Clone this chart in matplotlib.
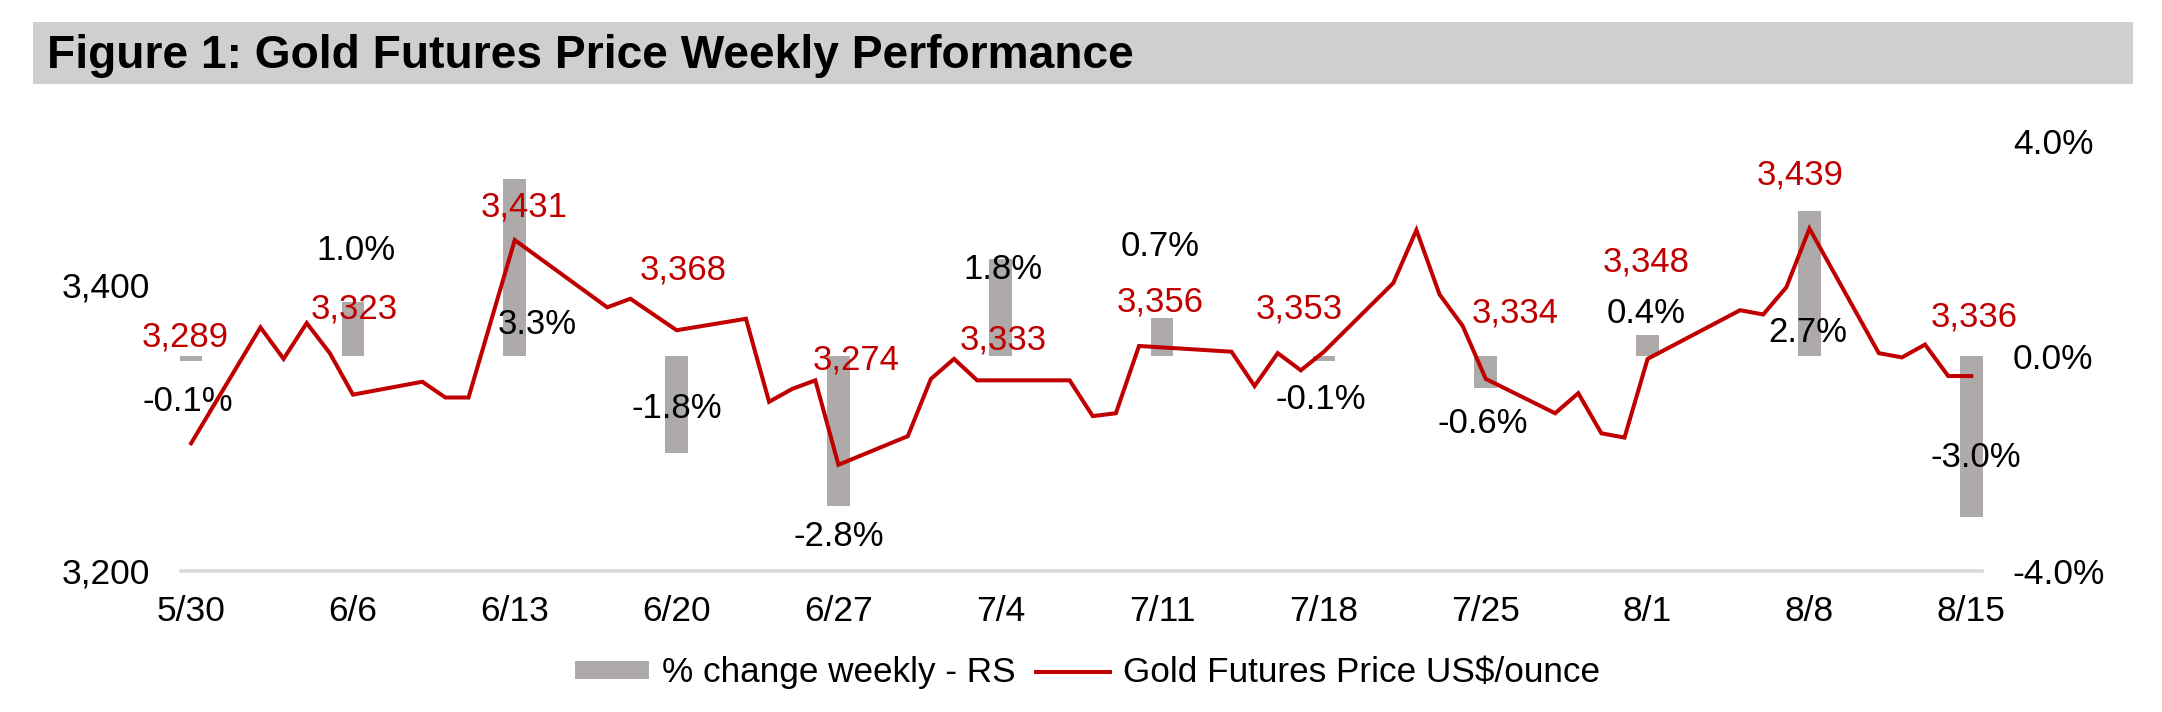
import matplotlib
matplotlib.use("Agg")
import matplotlib.pyplot as plt
from matplotlib.patches import Rectangle, Patch
from matplotlib.lines import Line2D
from matplotlib.ticker import FixedLocator, FuncFormatter
from datetime import timedelta
import pandas as pd

plt.rcParams['font.family'] = ['Liberation Sans', 'DejaVu Sans']

# ---------------- data ----------------
title_text = "Figure 1: Gold Futures Price Weekly Performance"

week_dates = ["2025-05-30", "2025-06-06", "2025-06-13", "2025-06-20", "2025-06-27", "2025-07-04",
              "2025-07-11", "2025-07-18", "2025-07-25", "2025-08-01", "2025-08-08", "2025-08-15"]
week_labels = ["5/30", "6/6", "6/13", "6/20", "6/27", "7/4",
               "7/11", "7/18", "7/25", "8/1", "8/8", "8/15"]
weekly_pct = [-0.1, 1.0, 3.3, -1.8, -2.8, 1.8, 0.7, -0.1, -0.6, 0.4, 2.7, -3.0]
weekly_price = [3289, 3323, 3431, 3368, 3274, 3333, 3356, 3353, 3334, 3348, 3439, 3336]

daily_dates = ["2025-05-30", "2025-06-02", "2025-06-03", "2025-06-04", "2025-06-05", "2025-06-06",
               "2025-06-09", "2025-06-10", "2025-06-11", "2025-06-13",
               "2025-06-17", "2025-06-18", "2025-06-20",
               "2025-06-23", "2025-06-24", "2025-06-25", "2025-06-26", "2025-06-27",
               "2025-06-30", "2025-07-01", "2025-07-02", "2025-07-03", "2025-07-04",
               "2025-07-07", "2025-07-08", "2025-07-09", "2025-07-10", "2025-07-11",
               "2025-07-14", "2025-07-15", "2025-07-16", "2025-07-17", "2025-07-18",
               "2025-07-21", "2025-07-22", "2025-07-23", "2025-07-24", "2025-07-25",
               "2025-07-28", "2025-07-29", "2025-07-30", "2025-07-31", "2025-08-01",
               "2025-08-05", "2025-08-06", "2025-08-07", "2025-08-08",
               "2025-08-11", "2025-08-12", "2025-08-13", "2025-08-14", "2025-08-15"]
daily_price = [3289, 3370, 3348, 3373, 3352, 3323,
               3332, 3321, 3321, 3431,
               3384, 3390, 3368,
               3376, 3318, 3327, 3333, 3274,
               3294, 3334, 3348, 3333, 3333,
               3333, 3308, 3310, 3357, 3356,
               3353, 3329, 3352, 3340, 3353,
               3401, 3438, 3393, 3371, 3334,
               3310, 3324, 3296, 3293, 3348,
               3382, 3379, 3398, 3439,
               3352, 3349, 3358, 3336, 3336]

bar_legend = "% change weekly - RS"
line_legend = "Gold Futures Price US$/ounce"

# ---------------- style / label placement (offset points) ----------------
pct_offsets = [(-2.5, -29.2), (2.2, 37.4), (16.2, -105), (0, 32.1), (0, -21.9), (2.2, -7.6),
               (-1.1, 51.6), (-2.4, -27.8), (-2.5, -25.2), (-0.9, 15.3), (-1, -87.5), (3.6, 42.5)]
price_offsets = [(-4, 76.5), (1.2, 61.5), (6.6, 24), (4.7, 43.4), (12.9, 75.5), (2, 29.1),
                 (-1.1, 33), (-17.6, 30.6), (21.5, 47.7), (-0.9, 70), (-6.4, 38.7), (1.9, 42.8)]

BAR_COLOR = "#aeaaaa"
RED = "#c00000"
AXIS_GRAY = "#d9d9d9"
TITLE_BG = "#d0cecf"
TICK_FS = 25.5
LABEL_FS = 25
LEGEND_FS = 25.3

wd = pd.to_datetime(week_dates).to_pydatetime()
dd = pd.to_datetime(daily_dates).to_pydatetime()

fig = plt.figure(figsize=(21.62, 7.12), dpi=100)

# title bar
fig.patches.append(Rectangle((33 / 2162, 1 - 84 / 712), 2100 / 2162, 62 / 712,
                             transform=fig.transFigure, facecolor=TITLE_BG, edgecolor='none', zorder=0))
fig.text(47 / 2162, 1 - 68.5 / 712, title_text, fontsize=33.2, fontweight='bold',
         ha='left', va='baseline', color='black')

ax_bar = fig.add_axes([180.7 / 2162, 141.3 / 712, 1801 / 2162, 429.4 / 712])
ax_line = ax_bar.twinx()

ax_bar.bar(wd, weekly_pct, width=0.98, color=BAR_COLOR, zorder=2, clip_on=False)
ax_line.plot(dd, daily_price, color=RED, lw=2.9, zorder=3, solid_joinstyle='miter')

ax_bar.set_ylim(-4, 4)
ax_line.set_ylim(3200, 3500)
ax_bar.set_xlim(wd[0] - timedelta(days=0.45), wd[-1] + timedelta(days=0.45))

ax_bar.yaxis.set_major_locator(FixedLocator([-4, 0, 4]))
ax_bar.yaxis.set_major_formatter(FuncFormatter(lambda v, p: f"{v:.1f}%"))
ax_line.yaxis.set_major_locator(FixedLocator([3200, 3400]))
ax_line.yaxis.set_major_formatter(FuncFormatter(lambda v, p: f"{int(v):,}"))

ax_bar.yaxis.tick_right()
ax_line.yaxis.tick_left()

ax_bar.set_xticks(wd)
ax_bar.set_xticklabels(week_labels)

for ax in (ax_bar, ax_line):
    for s in ax.spines.values():
        s.set_visible(False)
    ax.tick_params(length=0, labelsize=TICK_FS, colors='black')
ax_bar.tick_params(axis='y', pad=22.4)
ax_line.tick_params(axis='y', pad=22.4)
ax_bar.tick_params(axis='x', pad=17.5)
ax_bar.spines['bottom'].set_visible(True)
ax_bar.spines['bottom'].set_color(AXIS_GRAY)
ax_bar.spines['bottom'].set_linewidth(2.6)
ax_bar.spines['bottom'].set_position(('data', -4))

# data labels
for d, v, off in zip(wd, weekly_pct, pct_offsets):
    ax_bar.annotate(f"{v:.1f}%", xy=(d, v), xytext=off, textcoords='offset points',
                    ha='center', va='center', fontsize=LABEL_FS, color='black', zorder=4)
for d, p, off in zip(wd, weekly_price, price_offsets):
    ax_line.annotate(f"{p:,}", xy=(d, p), xytext=off, textcoords='offset points',
                     ha='center', va='center', fontsize=LABEL_FS, color=RED, zorder=5)

handles = [Patch(facecolor=BAR_COLOR, edgecolor='none'), Line2D([], [], color=RED, lw=2.9)]
fig.legend(handles, [bar_legend, line_legend], loc='center', bbox_to_anchor=(0.503, 0.0548),
           ncol=2, frameon=False, fontsize=LEGEND_FS, handlelength=2.1, handletextpad=0.36,
           columnspacing=0.6, handleheight=0.42)

fig.savefig("out.png", dpi=100)
